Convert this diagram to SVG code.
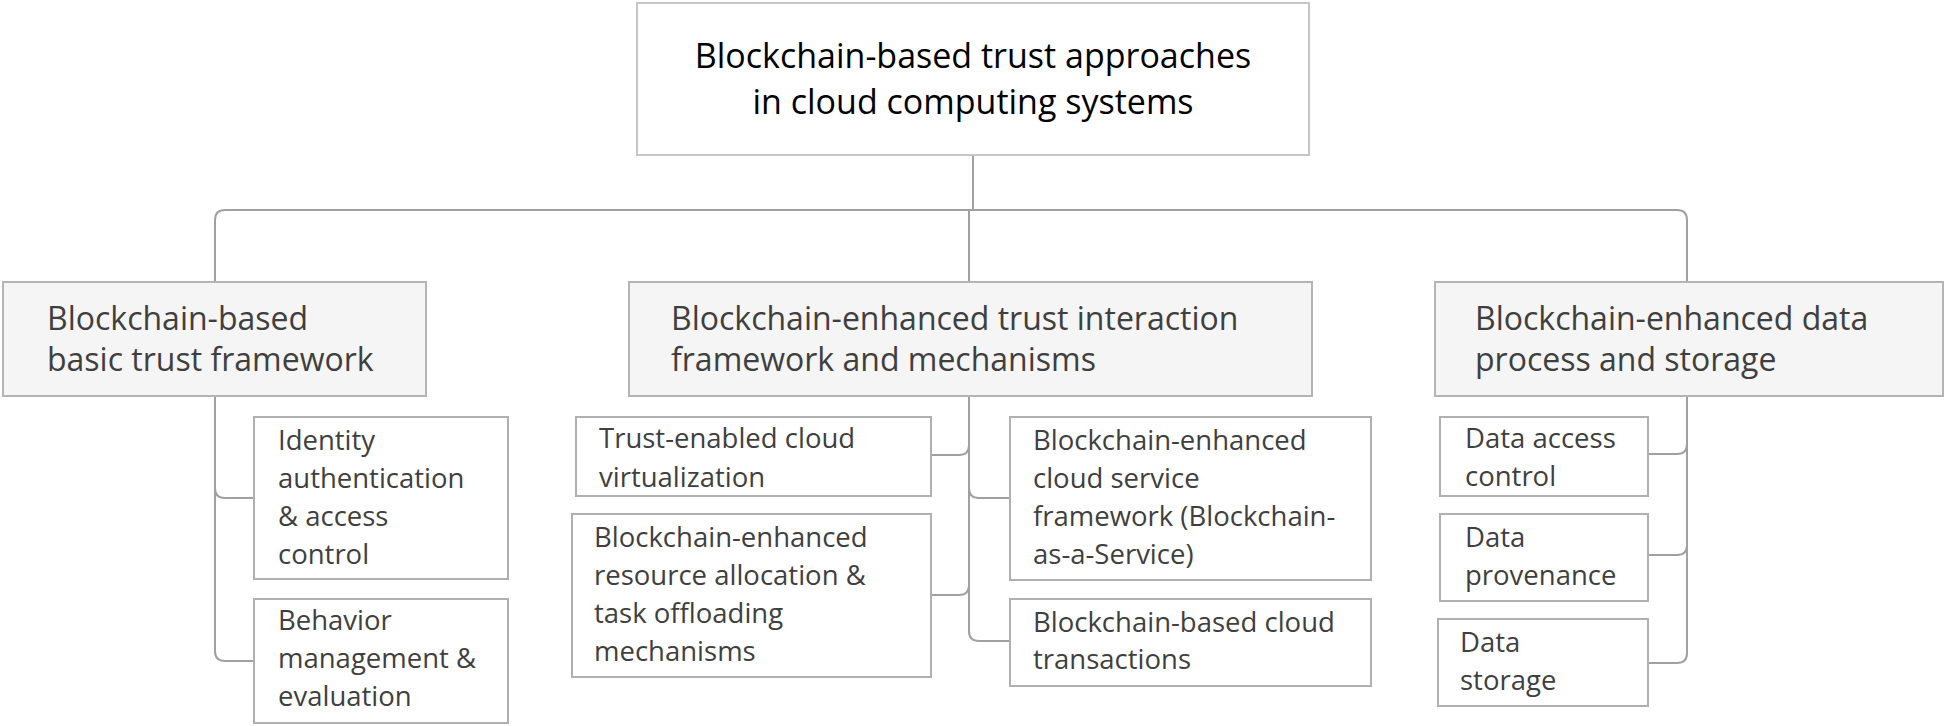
<svg xmlns="http://www.w3.org/2000/svg" width="1946" height="726" viewBox="0 0 1946 726">
<style>
text{font-family:"Open Sans","Noto Sans","Liberation Sans",sans-serif;fill:#3f3f3f}
.root{fill:#ffffff;stroke:#c6c6c6;stroke-width:2}
.rt{font-size:34px;fill:#000;text-anchor:middle}
.l2{fill:#f5f5f5;stroke:#b4b4b4;stroke-width:2}
.t2{font-size:32px}
.l3{fill:#ffffff;stroke:#b0b0b0;stroke-width:2}
.t3{font-size:27.5px}
.conn{fill:none;stroke:#a0a0a0;stroke-width:2}
</style>
<rect width="1946" height="726" fill="#ffffff"/>
<g id="connectors" class="conn">
<path d="M973,155 V210"/>
<path d="M215,282 V220 Q215,210 225,210 H1677 Q1687,210 1687,220 V282"/>
<path d="M969,210 V282"/>
<path d="M215,396 V651 Q215,661 225,661 H254 M215,488 Q215,498 225,498 H254"/>
<path d="M969,396 V631 Q969,641 979,641 H1010 M969,488 Q969,498 979,498 H1010 M931,455 H959 Q969,455 969,445 M931,595 H959 Q969,595 969,585"/>
<path d="M1687,396 V653 Q1687,663 1677,663 H1648 M1687,444 Q1687,454 1677,454 H1648 M1687,545 Q1687,555 1677,555 H1648"/>
</g>
<g id="root">
<rect class="root" x="637" y="3" width="672" height="152"/>
<text class="rt" x="973" y="68">Blockchain-based trust approaches</text>
<text class="rt" x="973" y="114">in cloud computing systems</text>
</g>
<g id="basic-framework">
<rect class="l2" x="3" y="282" width="423" height="114"/>
<text class="t2" x="47" y="330">Blockchain-based</text>
<text class="t2" x="47" y="371">basic trust framework</text>
</g>
<g id="interaction-framework">
<rect class="l2" x="629" y="282" width="683" height="114"/>
<text class="t2" x="671" y="330">Blockchain-enhanced trust interaction</text>
<text class="t2" x="671" y="371">framework and mechanisms</text>
</g>
<g id="data-process">
<rect class="l2" x="1435" y="282" width="508" height="114"/>
<text class="t2" x="1475" y="330">Blockchain-enhanced data</text>
<text class="t2" x="1475" y="371">process and storage</text>
</g>
<g id="identity">
<rect class="l3" x="254" y="417" width="254" height="162"/>
<text class="t3" x="278" y="450">Identity</text>
<text class="t3" x="278" y="488">authentication</text>
<text class="t3" x="278" y="526">&amp; access</text>
<text class="t3" x="278" y="564">control</text>
</g>
<g id="behavior">
<rect class="l3" x="254" y="599" width="254" height="124"/>
<text class="t3" x="278" y="630">Behavior</text>
<text class="t3" x="278" y="668">management &amp;</text>
<text class="t3" x="278" y="706">evaluation</text>
</g>
<g id="virtualization">
<rect class="l3" x="576" y="417" width="355" height="79"/>
<text class="t3" x="599" y="448">Trust-enabled cloud</text>
<text class="t3" x="599" y="487">virtualization</text>
</g>
<g id="resource-allocation">
<rect class="l3" x="572" y="514" width="359" height="163"/>
<text class="t3" x="594" y="547">Blockchain-enhanced</text>
<text class="t3" x="594" y="585">resource allocation &amp;</text>
<text class="t3" x="594" y="623">task offloading</text>
<text class="t3" x="594" y="661">mechanisms</text>
</g>
<g id="baas">
<rect class="l3" x="1010" y="417" width="361" height="163"/>
<text class="t3" x="1033" y="450">Blockchain-enhanced</text>
<text class="t3" x="1033" y="488">cloud service</text>
<text class="t3" x="1033" y="526">framework (Blockchain-</text>
<text class="t3" x="1033" y="564">as-a-Service)</text>
</g>
<g id="transactions">
<rect class="l3" x="1010" y="599" width="361" height="87"/>
<text class="t3" x="1033" y="632">Blockchain-based cloud</text>
<text class="t3" x="1033" y="669">transactions</text>
</g>
<g id="data-access">
<rect class="l3" x="1440" y="417" width="208" height="79"/>
<text class="t3" x="1465" y="448">Data access</text>
<text class="t3" x="1465" y="486">control</text>
</g>
<g id="data-provenance">
<rect class="l3" x="1440" y="514" width="208" height="87"/>
<text class="t3" x="1465" y="547">Data</text>
<text class="t3" x="1465" y="585">provenance</text>
</g>
<g id="data-storage">
<rect class="l3" x="1438" y="619" width="210" height="87"/>
<text class="t3" x="1460" y="652">Data</text>
<text class="t3" x="1460" y="690">storage</text>
</g>
</svg>
